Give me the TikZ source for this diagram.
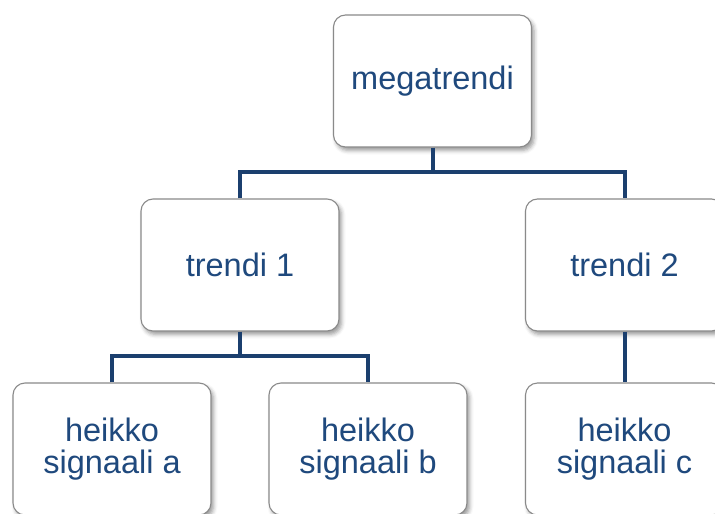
\documentclass[tikz,border=0pt]{standalone}
\usepackage{fontspec}
\setmainfont{Liberation Sans}
\usetikzlibrary{shadows.blur}
\definecolor{labelblue}{HTML}{1F497D}
\definecolor{linkblue}{HTML}{1B3F6E}
\definecolor{boxgray}{HTML}{8A8A8A}
\tikzset{
  card/.style={draw=boxgray, line width=1.1pt, fill=white, rounded corners=12pt,
    minimum width=198pt, minimum height=132pt, inner sep=2pt, align=center,
    text=labelblue, font=\fontsize{32.5}{32.5}\selectfont,
    blur shadow={shadow xshift=2.5pt, shadow yshift=-3.5pt, shadow blur radius=4pt, shadow opacity=40}},
  link/.style={draw=linkblue, line width=4pt, line join=miter}
}
\begin{document}
\begin{tikzpicture}[x=1pt, y=-1pt]
  \useasboundingbox (0,0) rectangle (715,514);
  \clip (0,0) rectangle (715,514);

  % junction points of the two branch bars
  \coordinate (jtop) at (432.5,172);
  \coordinate (jmid) at (240,356);

  \node[card] (mega) at (432.5,81) {megatrendi};
  \node[card] (tr1)  at (240,265) {trendi 1};
  \node[card] (tr2)  at (624.5,265) {trendi 2};
  \node[card] (sa)   at (112,449) {heikko\\signaali a};
  \node[card] (sb)   at (368,449) {heikko\\signaali b};
  \node[card] (sc)   at (624.5,449) {heikko\\signaali c};

  % tree connectors
  \draw[link] (mega.south) -- (jtop);
  \draw[link] (tr1.north) |- (jtop) -| (tr2.north);
  \draw[link] (tr1.south) -- (jmid);
  \draw[link] (sa.north) |- (jmid) -| (sb.north);
  \draw[link] (tr2.south) -- (sc.north);
\end{tikzpicture}
\end{document}
